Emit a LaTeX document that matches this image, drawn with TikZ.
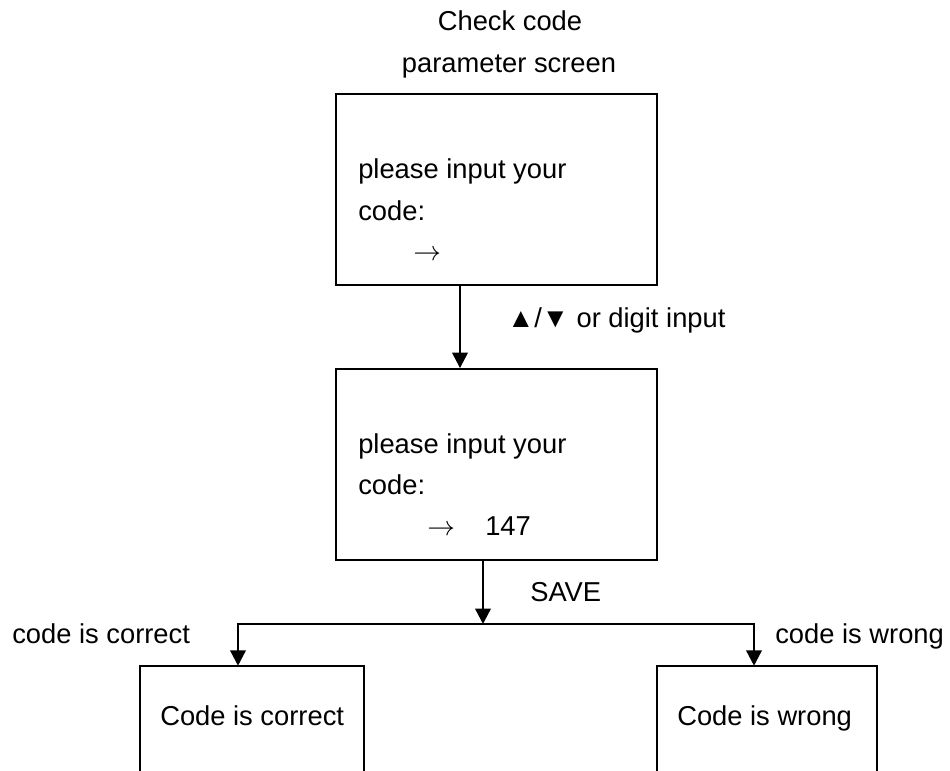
\documentclass[tikz,border=0pt]{standalone}
\usepackage{fontspec}
\setmainfont{Liberation Sans}
\usetikzlibrary{arrows.meta,fit}
\begin{document}
\begin{tikzpicture}[x=0.75pt,y=-0.75pt,
  txt/.style={inner sep=0pt,anchor=base west,font=\fontsize{20.5}{24}\selectfont},
  ctxt/.style={inner sep=0pt,anchor=base,font=\fontsize{20.5}{24}\selectfont},
  boxst/.style={draw,line width=1.4pt,inner sep=0pt},
  openbox/.style={inner sep=0pt},
  conn/.style={line width=1.8pt,-{Triangle[width=11.5pt,length=11.5pt]}},
  conn2/.style={line width=1.8pt,line join=miter,{Triangle[width=11.5pt,length=11.5pt]}-{Triangle[width=11.5pt,length=11.5pt]}}]
\useasboundingbox (0,0) rectangle (950,771);
% title
\node[ctxt] (t1) at (510,30) {Check code};
\node[ctxt] (t2) at (509,72) {parameter screen};
% boxes
\node[boxst,fit={(336,94) (657,285)}] (top) {};
\node[boxst,fit={(336,369) (657,560)}] (mid) {};
\node[openbox,fit={(140,666) (364,771)}] (botL) {};
\node[openbox,fit={(657,666) (877,771)}] (botR) {};
\draw[line width=1.4pt] (botL.south west) -- (botL.north west) -- (botL.north east) -- (botL.south east);
\draw[line width=1.4pt] (botR.south west) -- (botR.north west) -- (botR.north east) -- (botR.south east);
% box texts
\node[txt] (a1) at (358,178) {please input your};
\node[txt] (a2) at (358,220) {code:};
\node[txt] (a3) at (413,260) {$\rightarrow$};
\node[txt] (b1) at (358,453) {please input your};
\node[txt] (b2) at (358,494) {code:};
\node[txt] (b3) at (427,535) {$\rightarrow$};
\node[txt] (b4) at (485,535) {147};
\node[txt] (c1) at (160,725) {Code is correct};
\node[txt] (c2) at (677,725) {Code is wrong};
% connector labels
\node[txt] (l1) at (507,327) {▲/▼ or digit input};
\node[txt] (l2) at (530,601) {SAVE};
\node[txt] (l3) at (12,643) {code is correct};
\node[txt] (l4) at (775,643) {code is wrong};
% connectors
\coordinate (x1) at (460,0);
\coordinate (J) at (483,624);
\coordinate (JL) at (238,624);
\coordinate (JR) at (754,624);
\draw[conn] (top.south -| x1) -- (mid.north -| x1);
\draw[conn] (mid.south -| J) -- (J);
\draw[conn2] (botL.north -| JL) -- (JL) -- (JR) -- (botR.north -| JR);
\end{tikzpicture}
\end{document}
